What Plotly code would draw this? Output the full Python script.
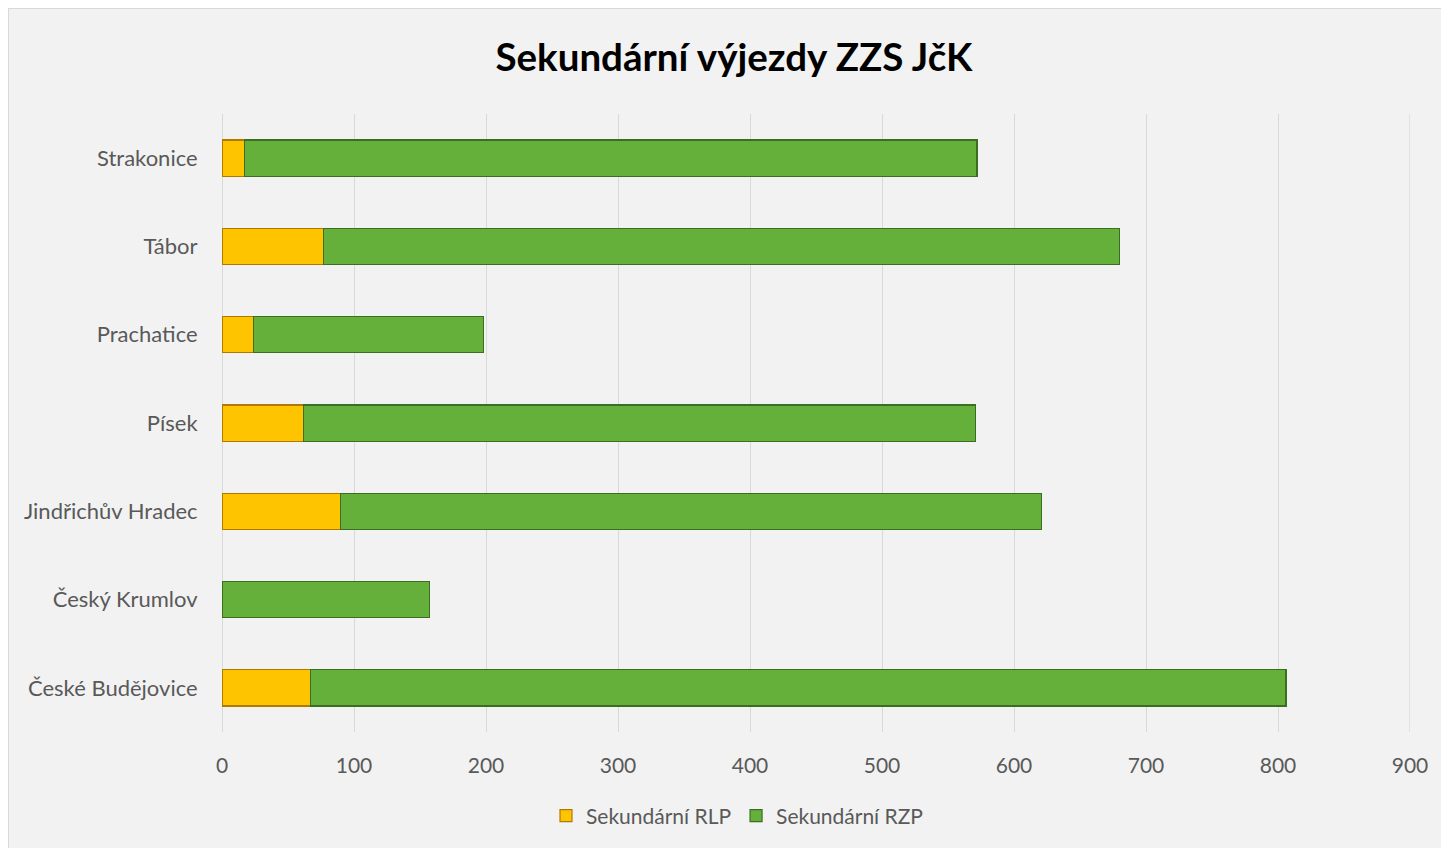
import plotly.graph_objects as go

# Data (bottom to top order as drawn by Plotly)
categories = ["České Budějovice", "Český Krumlov", "Jindřichův Hradec",
              "Písek", "Prachatice", "Tábor", "Strakonice"]
rlp_values = [67, 0, 90, 62, 24, 77, 17]
rzp_values = [739, 157, 531, 509, 174, 603, 555]
x_ticks = [0, 100, 200, 300, 400, 500, 600, 700, 800, 900]

title_text = "Sekundární výjezdy ZZS JčK"
font_family = "Lato, 'Open Sans', sans-serif"

# page is offset by 8px body margin
W, H = 1441, 840
L, T = 214, 106
pw, ph = 1188, 618
R = W - L - pw
B = H - T - ph

def px_x(px):  # page px -> paper
    return (px - 8 - L) / pw

def px_y(py):
    return (T + ph - (py - 8)) / ph

fig = go.Figure()
fig.add_trace(go.Bar(
    y=categories, x=rlp_values, orientation="h", name="Sekundární RLP",
    marker=dict(color="#FFC400", line=dict(color="#B07A00", width=1.2)),
))
fig.add_trace(go.Bar(
    y=categories, x=rzp_values, orientation="h", name="Sekundární RZP",
    marker=dict(color="#64B03A", line=dict(color="#3C6E22", width=1.2)),
))

fig.update_layout(
    width=W, height=H,
    margin=dict(l=L, r=R, t=T, b=B),
    barmode="stack",
    bargap=0.59,
    paper_bgcolor="#F2F2F2",
    plot_bgcolor="#F2F2F2",
    font=dict(family=font_family, color="#595959", size=21),
    title=dict(text="<b>" + title_text + "</b>", x=(734 - 8) / W, xref="container",
               xanchor="center", y=1 - (58 - 8) / H, yref="container", yanchor="middle",
               font=dict(family=font_family, size=38.5, color="#000000")),
    xaxis=dict(range=[0, 900], tickvals=x_ticks, ticktext=[str(v) for v in x_ticks],
               showgrid=True, gridcolor="#D9D9D9", gridwidth=1.3,
               zeroline=True, zerolinecolor="#D9D9D9", zerolinewidth=1.3,
               showline=False,
               ticks="outside", ticklen=15, tickcolor="rgba(0,0,0,0)",
               tickfont=dict(size=21, color="#595959"), fixedrange=True),
    yaxis=dict(categoryorder="array", categoryarray=categories,
               showgrid=False, zeroline=False, showline=False,
               ticks="outside", ticklen=19, tickcolor="rgba(0,0,0,0)",
               tickfont=dict(size=22, color="#595959"), fixedrange=True),
    legend=dict(orientation="h", x=px_x(737), xanchor="center",
                y=px_y(816), yanchor="middle", traceorder="normal",
                font=dict(size=21, color="#595959"),
                bgcolor="rgba(0,0,0,0)"),
    shapes=[
        dict(type="line", xref="paper", yref="paper", layer="below",
             x0=-L / pw, x1=(W - L + 10) / pw, y0=(H - B) / ph, y1=(H - B) / ph,
             line=dict(color="#D9D9D9", width=2)),
        dict(type="line", xref="paper", yref="paper", layer="below",
             x0=-L / pw, x1=-L / pw, y0=-(B + 10) / ph, y1=(H - B) / ph,
             line=dict(color="#D9D9D9", width=2)),
        # gridline at the last tick (right edge of plot area)
        dict(type="line", xref="x", yref="paper", layer="below",
             x0=x_ticks[-1], x1=x_ticks[-1], y0=0, y1=1,
             line=dict(color="#D9D9D9", width=1.3)),
    ],
    showlegend=True,
)

fig.write_html("out.html")
